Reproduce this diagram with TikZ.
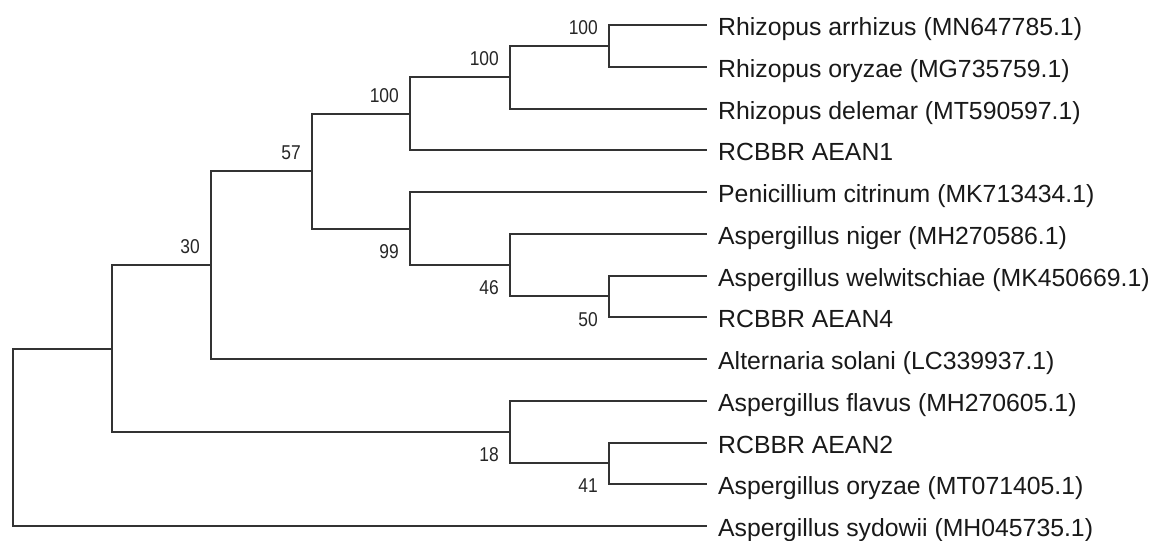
\documentclass[tikz,border=0pt]{standalone}
\usepackage{fontspec}
\setmainfont{Liberation Sans}
\newfontfamily\bsfont[FakeStretch=0.87]{Liberation Sans}
\begin{document}
\begin{tikzpicture}[x=1pt,y=-1pt,
  br/.style={draw=black!80, line width=2pt, line join=miter},
  leaf/.style={anchor=base west, font=\fontsize{24.8}{28}\selectfont, text=black!90, inner sep=0pt, xshift=11pt, yshift=-10.5pt},
  bs/.style={font=\bsfont\fontsize{20}{24}\selectfont, inner sep=0pt, text=black!85},
  bsup/.style={bs, anchor=south east, xshift=-11pt, yshift=11pt},
  bsdn/.style={bs, anchor=north east, xshift=-11pt, yshift=-15.5pt}]
\useasboundingbox (0,0) rectangle (1163,541);
% leaf tips
\foreach \i in {1,...,13} {\coordinate (l\i) at (707,{25+41.75*(\i-1)});}
% internal nodes
\coordinate (A) at (609,45.875);
\coordinate (B) at (510,77.19);
\coordinate (C) at (410,113.72);
\coordinate (G) at (609,296.375);
\coordinate (F) at (510,265.06);
\coordinate (E) at (410,228.53);
\coordinate (D) at (312,171.12);
\coordinate (H) at (211,265.06);
\coordinate (J) at (609,463.375);
\coordinate (I) at (510,432.06);
\coordinate (K) at (112,348.56);
\coordinate (R) at (13,437.28);
% branches
\draw[br] (R) |- (K);  \draw[br] (R) |- (l13);
\draw[br] (K) |- (H);  \draw[br] (K) |- (I);
\draw[br] (H) |- (D);  \draw[br] (H) |- (l9);
\draw[br] (D) |- (C);  \draw[br] (D) |- (E);
\draw[br] (C) |- (B);  \draw[br] (C) |- (l4);
\draw[br] (B) |- (A);  \draw[br] (B) |- (l3);
\draw[br] (A) |- (l1); \draw[br] (A) |- (l2);
\draw[br] (E) |- (l5); \draw[br] (E) |- (F);
\draw[br] (F) |- (l6); \draw[br] (F) |- (G);
\draw[br] (G) |- (l7); \draw[br] (G) |- (l8);
\draw[br] (I) |- (l10); \draw[br] (I) |- (J);
\draw[br] (J) |- (l11); \draw[br] (J) |- (l12);
% leaf labels
\node[leaf] (t1) at (l1) {Rhizopus arrhizus (MN647785.1)};
\node[leaf] (t2) at (l2) {Rhizopus oryzae (MG735759.1)};
\node[leaf] (t3) at (l3) {Rhizopus delemar (MT590597.1)};
\node[leaf] (t4) at (l4) {RCBBR AEAN1};
\node[leaf] (t5) at (l5) {Penicillium citrinum (MK713434.1)};
\node[leaf] (t6) at (l6) {Aspergillus niger (MH270586.1)};
\node[leaf] (t7) at (l7) {Aspergillus welwitschiae (MK450669.1)};
\node[leaf] (t8) at (l8) {RCBBR AEAN4};
\node[leaf] (t9) at (l9) {Alternaria solani (LC339937.1)};
\node[leaf] (t10) at (l10) {Aspergillus flavus (MH270605.1)};
\node[leaf] (t11) at (l11) {RCBBR AEAN2};
\node[leaf] (t12) at (l12) {Aspergillus oryzae (MT071405.1)};
\node[leaf] (t13) at (l13) {Aspergillus sydowii (MH045735.1)};
% bootstrap values
\node[bsup] (bA) at (A) {100};
\node[bsup] (bB) at (B) {100};
\node[bsup] (bC) at (C) {100};
\node[bsup] (bD) at (D) {57};
\node[bsup] (bH) at (H) {30};
\node[bsdn] (bE) at (E) {99};
\node[bsdn] (bF) at (F) {46};
\node[bsdn] (bG) at (G) {50};
\node[bsdn] (bI) at (I) {18};
\node[bsdn] (bJ) at (J) {41};
\end{tikzpicture}
\end{document}
